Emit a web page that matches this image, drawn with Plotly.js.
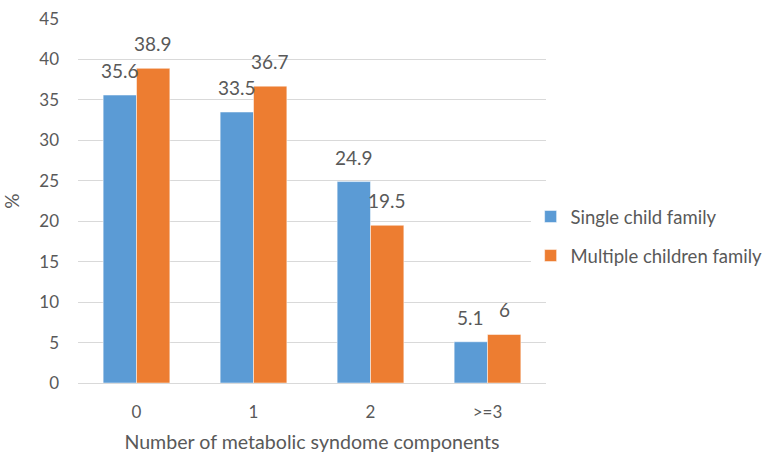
<!DOCTYPE html>
<html>
<head>
<meta charset="utf-8">
<script src="https://cdn.plot.ly/plotly-3.0.1.min.js"></script>
<style>html,body{margin:0;padding:0;background:#fff;}#chart{width:769px;height:453px;}</style>
</head>
<body>
<div id="chart"></div>
<script>
var categories = ["0", "1", "2", ">=3"];
var singleChild = [35.6, 33.5, 24.9, 5.1];
var multipleChildren = [38.9, 36.7, 19.5, 6];
var seriesNames = ["Single child family", "Multiple children family"];
var yTicks = [0, 5, 10, 15, 20, 25, 30, 35, 40, 45];

var FONT = "Lato, 'Open Sans', sans-serif";
var TXT = "#595959";

var traces = [
  {type: "bar", name: seriesNames[0], x: categories, y: singleChild,
   marker: {color: "#5B9BD5", line: {color: "#ffffff", width: 0.5}},
   legendgroup: "a", hoverinfo: "skip"},
  {type: "bar", name: seriesNames[1], x: categories, y: multipleChildren,
   marker: {color: "#ED7D31", line: {color: "#ffffff", width: 0.5}},
   legendgroup: "b", hoverinfo: "skip"}
];

var annotations = [];
var shift = 16.75;
[singleChild, multipleChildren].forEach(function (vals, s) {
  vals.forEach(function (v, i) {
    annotations.push({
      x: categories[i], y: v, xref: "x", yref: "y",
      xshift: s === 0 ? -shift : shift, yshift: 11,
      yanchor: "bottom", showarrow: false, text: String(v),
      font: {family: FONT, size: 19, color: TXT}
    });
  });
});

var layout = {
  width: 769, height: 453,
  margin: {l: 78, r: 223, t: 19, b: 70, pad: 0, autoexpand: false},
  paper_bgcolor: "#ffffff", plot_bgcolor: "#ffffff",
  font: {family: FONT, size: 17, color: TXT},
  barmode: "group", bargap: 0.43, bargroupgap: 0,
  showlegend: true,
  legend: {xref: "container", yref: "container", x: 0.69, y: 0.478,
           xanchor: "left", yanchor: "middle",
           font: {family: FONT, size: 18.5, color: TXT},
           tracegroupgap: 12, itemwidth: 30},
  xaxis: {type: "category", showgrid: false, zeroline: false,
          showline: true, linecolor: "#D9D9D9", linewidth: 1,
          ticks: "", ticklabelstandoff: 14,
          tickfont: {family: FONT, size: 17, color: TXT},
          title: {text: "Number of metabolic syndome components", standoff: 14,
                  font: {family: FONT, size: 19.6, color: TXT}}},
  yaxis: {range: [0, 45], tickvals: yTicks, showgrid: true, gridcolor: "#D9D9D9",
          gridwidth: 1, zeroline: false, showline: false, ticks: "",
          ticklabelstandoff: 18,
          tickfont: {family: FONT, size: 17, color: TXT},
          title: {text: "%", standoff: 14, font: {family: FONT, size: 19, color: TXT}}},
  annotations: annotations
};

Plotly.newPlot("chart", traces, layout, {displayModeBar: false, staticPlot: true});
</script>
</body>
</html>
